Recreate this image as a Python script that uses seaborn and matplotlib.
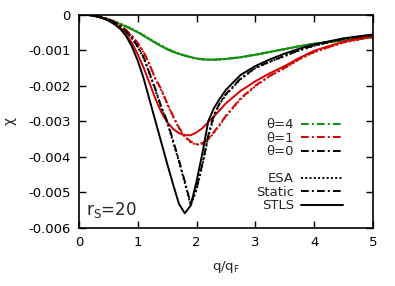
import matplotlib
matplotlib.use("Agg")
import matplotlib.pyplot as plt
import seaborn as sns
import pandas as pd
from matplotlib.lines import Line2D

# q/q_F grid shared by every curve
q = [0.0, 0.1, 0.2, 0.3, 0.4, 0.5, 0.6, 0.7, 0.8, 0.9, 1.0, 1.1, 1.2, 1.3, 1.4, 1.5,
     1.6, 1.7, 1.8, 1.9, 2.0, 2.1, 2.2, 2.3, 2.4, 2.5, 2.75, 3.0, 3.25, 3.5, 3.75,
     4.0, 4.5, 5.0]

# theta = 0
chi_t0_stls = [0, -0.000005, -0.00002, -0.00005, -0.0001, -0.00017, -0.00027, -0.0004,
               -0.0006, -0.0009, -0.0013, -0.0018, -0.0024, -0.0030, -0.0036, -0.0042,
               -0.00478, -0.00533, -0.0056, -0.00538, -0.0047, -0.0039, -0.0030, -0.00262,
               -0.00236, -0.00212, -0.0017, -0.00145, -0.00126, -0.0011, -0.00096,
               -0.00084, -0.00067, -0.00056]
chi_t0_static = [0, -0.000004, -0.000015, -0.00004, -0.00008, -0.00014, -0.00022, -0.00033,
                 -0.00047, -0.00066, -0.0009, -0.0012, -0.00165, -0.0021, -0.0026, -0.0030,
                 -0.00355, -0.0041, -0.0047, -0.00533, -0.0049, -0.0042, -0.0034, -0.0028,
                 -0.00248, -0.00224, -0.0018, -0.0015, -0.00132, -0.00116, -0.001,
                 -0.00087, -0.00068, -0.00057]
chi_t0_esa = [0, -0.000004, -0.000016, -0.00004, -0.00008, -0.00014, -0.00022, -0.00034,
              -0.00048, -0.00067, -0.00092, -0.00122, -0.00167, -0.00213, -0.00263, -0.00304,
              -0.00358, -0.00414, -0.00474, -0.00538, -0.00494, -0.00424, -0.00344, -0.00284,
              -0.0025, -0.00226, -0.00182, -0.00151, -0.00133, -0.00117, -0.00101,
              -0.00088, -0.00069, -0.00058]

# theta = 1
chi_t1_stls = [0, -0.000005, -0.00002, -0.00005, -0.0001, -0.00016, -0.00025, -0.00037,
               -0.00055, -0.0008, -0.00112, -0.0015, -0.00193, -0.00237, -0.00275, -0.00303,
               -0.00322, -0.00334, -0.0034, -0.0034, -0.00332, -0.0032, -0.00303, -0.00286,
               -0.00268, -0.0025, -0.00215, -0.00188, -0.00165, -0.00145, -0.00122,
               -0.00102, -0.00076, -0.0006]
chi_t1_static = [0, -0.000004, -0.000015, -0.00004, -0.00008, -0.00013, -0.0002, -0.0003,
                 -0.00043, -0.0006, -0.0008, -0.00105, -0.0014, -0.0018, -0.0021, -0.0025,
                 -0.00285, -0.00318, -0.00343, -0.00358, -0.00365, -0.00362, -0.0035, -0.0033,
                 -0.00308, -0.00285, -0.00236, -0.002, -0.00172, -0.0015, -0.00125,
                 -0.00105, -0.00078, -0.00062]
chi_t1_esa = [0, -0.000004, -0.000016, -0.00004, -0.00008, -0.00013, -0.0002, -0.00031,
              -0.00044, -0.00061, -0.00082, -0.00107, -0.00142, -0.00182, -0.00213, -0.00253,
              -0.00288, -0.0032, -0.00345, -0.0036, -0.00367, -0.00364, -0.00352, -0.00332,
              -0.0031, -0.00287, -0.00238, -0.00202, -0.00173, -0.00151, -0.00126,
              -0.00106, -0.00079, -0.00063]

# theta = 4
chi_t4_stls = [0, -0.000005, -0.00002, -0.00005, -0.00009, -0.00014, -0.0002, -0.00027,
               -0.00034, -0.00042, -0.0005, -0.0006, -0.0007, -0.0008, -0.00089, -0.00098,
               -0.00105, -0.00111, -0.00116, -0.0012, -0.00124, -0.00126, -0.00127, -0.00127,
               -0.00126, -0.00125, -0.0012, -0.00113, -0.00105, -0.00097, -0.00089,
               -0.00082, -0.00072, -0.00064]
chi_t4_static = [0, -0.000005, -0.00002, -0.00005, -0.00009, -0.00013, -0.00019, -0.00026,
                 -0.00033, -0.00041, -0.00049, -0.00059, -0.00069, -0.00079, -0.00088, -0.00097,
                 -0.00104, -0.0011, -0.00115, -0.0012, -0.00124, -0.00126, -0.00127, -0.00127,
                 -0.00126, -0.00125, -0.0012, -0.00113, -0.00105, -0.00097, -0.00089,
                 -0.00082, -0.00072, -0.00064]
chi_t4_esa = [0, -0.000004, -0.000018, -0.00005, -0.00008, -0.00013, -0.00018, -0.00025,
              -0.00032, -0.0004, -0.00048, -0.00058, -0.00068, -0.00078, -0.00087, -0.00096,
              -0.00103, -0.0011, -0.00115, -0.00119, -0.00123, -0.00126, -0.00127, -0.00127,
              -0.00127, -0.00125, -0.00121, -0.00114, -0.00106, -0.00098, -0.0009,
              -0.00083, -0.00073, -0.00065]

xticks = [0, 1, 2, 3, 4, 5]
yticks = [0, -0.001, -0.002, -0.003, -0.004, -0.005, -0.006]
ytick_labels = ["0", "-0.001", "-0.002", "-0.003", "-0.004", "-0.005", "-0.006"]

colors = {"0": "black", "1": "#d40000", "4": "#109010"}
styles = {"ESA": (0, (1, 1.2)), "Static": (0, (4, 1.6, 1, 1.6)), "STLS": "-"}

curves = {
    ("4", "STLS"): chi_t4_stls, ("4", "Static"): chi_t4_static, ("4", "ESA"): chi_t4_esa,
    ("1", "STLS"): chi_t1_stls, ("1", "Static"): chi_t1_static, ("1", "ESA"): chi_t1_esa,
    ("0", "STLS"): chi_t0_stls, ("0", "Static"): chi_t0_static, ("0", "ESA"): chi_t0_esa,
}

rows = []
for (theta, method), chi in curves.items():
    for qq, c in zip(q, chi):
        rows.append({"q": qq, "chi": c, "theta": theta, "method": method})
df = pd.DataFrame(rows)

sns.set_style("ticks")
plt.rcParams["font.family"] = ["DejaVu Sans"]

fig = plt.figure(figsize=(3.95, 2.86), dpi=100)
ax = fig.add_axes([0.2, 0.2045, 0.744, 0.7445])

for (theta, method), sub in df.groupby(["theta", "method"], sort=False):
    sns.lineplot(data=sub, x="q", y="chi", ax=ax, color=colors[theta],
                 linestyle=styles[method], linewidth=1.4, legend=False,
                 estimator=None, sort=True)

ax.set_xlim(0, 5)
ax.set_ylim(-0.006, 0)
ax.set_xticks(xticks)
ax.set_xticklabels([str(t) for t in xticks])
ax.set_yticks(yticks)
ax.set_yticklabels(ytick_labels)
ax.tick_params(direction="in", top=True, right=True, length=5, width=1,
               labelsize=9.5, pad=6, colors="black")
for s in ax.spines.values():
    s.set_linewidth(1.2)
    s.set_color("black")

ax.set_xlabel("q/q$_\\mathrm{F}$", fontsize=9.5, labelpad=7)
ax.set_ylabel("χ", fontsize=10, labelpad=8, rotation=90)

ax.text(0.025, 0.035, "r$_\\mathrm{S}$=20", transform=ax.transAxes,
        fontsize=12, ha="left", va="bottom")

handles = [
    Line2D([], [], color=colors["4"], linestyle=styles["Static"], linewidth=1.4),
    Line2D([], [], color=colors["1"], linestyle=styles["Static"], linewidth=1.4),
    Line2D([], [], color=colors["0"], linestyle=styles["Static"], linewidth=1.4),
    Line2D([], [], color="none"),
    Line2D([], [], color="black", linestyle=styles["ESA"], linewidth=1.4),
    Line2D([], [], color="black", linestyle=styles["Static"], linewidth=1.4),
    Line2D([], [], color="black", linestyle=styles["STLS"], linewidth=1.4),
]
labels = ["θ=4", "θ=1", "θ=0", " ", "ESA", "Static", "STLS"]
ax.legend(handles, labels, loc="lower right", bbox_to_anchor=(0.92, 0.04),
          frameon=False, markerfirst=False, fontsize=9.5, handlelength=3.2,
          handletextpad=0.5, labelspacing=0.04, borderpad=0)

fig.savefig("out.png", dpi=100)
